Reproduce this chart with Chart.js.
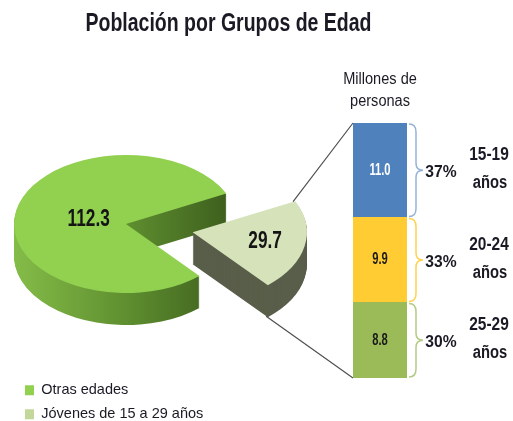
<!DOCTYPE html>
<html><head><meta charset="utf-8">
<style>
html,body{margin:0;padding:0;width:513px;height:421px;overflow:hidden;background:#fff;}
canvas{position:absolute;left:0;top:0;}
</style>
<script src="https://cdn.jsdelivr.net/npm/chart.js@4.4.1/dist/chart.umd.min.js"></script>
</head><body>
<canvas id="pie" width="513" height="431"></canvas>
<canvas id="bar" width="513" height="421"></canvas>
<script>
// ---------- data ----------
const pieLabels = ['Otras edades', 'Jóvenes de 15 a 29 años'];
const pieValues = [112.3, 29.7];
const groupLabels = ['25-29 años', '20-24 años', '15-19 años']; // bottom to top
const groupValues = [8.8, 9.9, 11.0];
const groupPercents = ['30%', '33%', '37%'];
const titleText = 'Población por Grupos de Edad';
const unitText = ['Millones de', 'personas'];

// ---------- styles ----------
const SANS = "'Liberation Sans', Arial, sans-serif";
const pieTopColors = ['#92D050', '#D5E2BA'];
const legendColors = ['#92D050', '#C4D79B'];
const pieSideSmall = '#595E4A';
const barColors = ['#9BBB59', '#FFCC33', '#4F81BD'];
const braceColors = ['#B3CB85', '#FFD24D', '#95B3D7'];
const valueColors = ['#1A1A1A', '#1A1A1A', '#FFFFFF'];
const TEXT_DARK = '#1A1A24';
const PIE_CENTER = {x: 126, y: 224};
const TILT = 0.616;
const DEPTH = 32;
const labelRadius = [0.34, 0.66];

// condensed text: real text drawn with a horizontal squeeze
function condText(ctx, text, x, y, font, sx, color) {
  ctx.save();
  ctx.font = font;
  ctx.fillStyle = color;
  ctx.textAlign = 'center';
  ctx.textBaseline = 'middle';
  ctx.translate(x, y);
  ctx.scale(sx, 1);
  ctx.fillText(text, 0, 0);
  ctx.restore();
}

function pieMap(arcs, arc, ang, r, depth) {
  const c = arcs[0];
  const off = (arc.options.offset || 0) / 4;
  const h = (arc.startAngle + arc.endAngle) / 2;
  const px = arc.x + Math.cos(h) * off + Math.cos(ang) * r;
  const py = arc.y + Math.sin(h) * off + Math.sin(ang) * r;
  return {x: PIE_CENTER.x + (px - c.x), y: PIE_CENTER.y + TILT * (py - c.y) + depth};
}

const pie3d = {
  id: 'pie3d',
  beforeDatasetsDraw(chart) {
    const ctx = chart.ctx;
    const arcs = chart.getDatasetMeta(0).data;
    const cx = arcs[0].x, cy = arcs[0].y, R = arcs[0].outerRadius;
    ctx.save();
    ctx.translate(PIE_CENTER.x, PIE_CENTER.y);
    ctx.scale(1, TILT);
    ctx.translate(-cx, -cy);
    const g = ctx.createLinearGradient(cx - R, 0, cx + R, 0);
    g.addColorStop(0, '#84BC48');
    g.addColorStop(0.5, '#5F8F30');
    g.addColorStop(1, '#3A5A1B');
    const sides = [g, pieSideSmall];
    for (let d = DEPTH; d >= 1; d -= 1) {
      ctx.save();
      ctx.translate(0, d / TILT);
      arcs.forEach((arc, i) => {
        const fake = Object.create(arc);
        fake.options = Object.assign({}, arc.options, {backgroundColor: sides[i], borderWidth: 0});
        fake.draw(ctx);
      });
      ctx.restore();
    }
  },
  afterDatasetsDraw(chart) {
    const ctx = chart.ctx;
    ctx.restore();
    const arcs = chart.getDatasetMeta(0).data;
    arcs.forEach((arc, i) => {
      const h = (arc.startAngle + arc.endAngle) / 2;
      const p = pieMap(arcs, arc, h, arc.outerRadius * labelRadius[i], 0);
      condText(ctx, pieValues[i].toFixed(1), p.x, p.y, 'bold 23px ' + SANS, 0.75, '#141414');
    });
  },
  afterDraw(chart) {
    condText(chart.ctx, titleText, 228.5, 24, 'bold 25px ' + SANS, 0.78, TEXT_DARK);
  }
};

const pieChart = new Chart(document.getElementById('pie'), {
  type: 'pie',
  data: {
    labels: pieLabels,
    datasets: [{
      data: pieValues,
      backgroundColor: pieTopColors,
      borderWidth: 0,
      offset: [0, 272],
      hoverOffset: 0,
      clip: false
    }]
  },
  options: {
    responsive: false,
    animation: false,
    rotation: 139,
    radius: 112,
    cutout: '0%',
    layout: {padding: {left: 15.5, right: 69.5, top: 0, bottom: 0}},
    plugins: {
      tooltip: {enabled: false},
      title: {display: false},
      legend: {
        position: 'left', align: 'end',
        labels: {
          boxWidth: 9, boxHeight: 10, padding: 9.5, color: TEXT_DARK,
          font: {family: SANS, size: 14.5},
          generateLabels(chart) {
            const items = Chart.overrides.pie.plugins.legend.labels.generateLabels(chart);
            items.forEach((it, i) => { it.fillStyle = legendColors[i]; it.strokeStyle = legendColors[i]; it.lineWidth = 0; });
            return items;
          }
        }
      }
    }
  },
  plugins: [pie3d]
});

function drawBrace(ctx, x0, y0, y1, color) {
  const xv = x0 + 7, xt = x0 + 14, mid = (y0 + y1) / 2;
  ctx.beginPath();
  ctx.moveTo(x0, y0 + 1);
  ctx.quadraticCurveTo(xv, y0 + 1, xv, y0 + 9);
  ctx.lineTo(xv, mid - 7);
  ctx.quadraticCurveTo(xv, mid, xt, mid);
  ctx.quadraticCurveTo(xv, mid, xv, mid + 7);
  ctx.lineTo(xv, y1 - 9);
  ctx.quadraticCurveTo(xv, y1 - 1, x0, y1 - 1);
  ctx.strokeStyle = color;
  ctx.lineWidth = 1.5;
  ctx.stroke();
}

const barDeco = {
  id: 'barDeco',
  beforeDatasetsDraw(chart) {
    const ctx = chart.ctx;
    const area = chart.chartArea;
    const arcs = pieChart.getDatasetMeta(0).data;
    const small = arcs[1];
    const topPt = pieMap(arcs, small, small.startAngle, small.outerRadius, 0);
    const botPt = pieMap(arcs, small, small.endAngle, small.outerRadius, DEPTH);
    const n = groupValues.length;
    const topBar = chart.getDatasetMeta(n - 1).data[0];
    const botBar = chart.getDatasetMeta(0).data[0];
    ctx.save();
    ctx.strokeStyle = '#505050';
    ctx.lineWidth = 1.2;
    ctx.beginPath();
    ctx.moveTo(topPt.x, topPt.y);
    ctx.lineTo(area.left, topBar.y);
    ctx.moveTo(botPt.x, botPt.y);
    ctx.lineTo(area.left, botBar.base);
    ctx.stroke();
    ctx.restore();
    const cx = (area.left + area.right) / 2;
    condText(ctx, unitText[0], cx, 80, '16px ' + SANS, 0.91, TEXT_DARK);
    condText(ctx, unitText[1], cx, 102, '16px ' + SANS, 0.91, TEXT_DARK);
  },
  afterDatasetsDraw(chart) {
    const ctx = chart.ctx;
    groupValues.forEach((v, i) => {
      const el = chart.getDatasetMeta(i).data[0];
      const top = el.y, bot = el.base, mid = (top + bot) / 2;
      const right = el.x + el.width / 2;
      condText(ctx, v.toFixed(1), el.x, mid, 'bold 16px ' + SANS, 0.7, valueColors[i]);
      drawBrace(ctx, right + 2, top, bot, braceColors[i]);
      condText(ctx, groupPercents[i], right + 34, mid + 2, 'bold 17px ' + SANS, 0.92, TEXT_DARK);
      const parts = groupLabels[i].split(' ');
      condText(ctx, parts[0], right + 82, mid - 15, 'bold 18px ' + SANS, 0.86, TEXT_DARK);
      condText(ctx, parts[1], right + 83, mid + 13, 'bold 18px ' + SANS, 0.82, TEXT_DARK);
    });
  }
};

const total = groupValues.reduce((a, b) => a + b, 0);
const barChart = new Chart(document.getElementById('bar'), {
  type: 'bar',
  data: {
    labels: [''],
    datasets: groupValues.map((v, i) => ({
      label: groupLabels[i], data: [v], backgroundColor: barColors[i],
      borderWidth: 0, barPercentage: 1, categoryPercentage: 1
    }))
  },
  options: {
    responsive: false,
    animation: false,
    layout: {padding: {left: 353, right: 106, top: 123, bottom: 43}},
    scales: {
      x: {display: false, stacked: true},
      y: {display: false, stacked: true, min: 0, max: total}
    },
    plugins: {
      legend: {display: false},
      tooltip: {enabled: false},
      title: {display: false}
    }
  },
  plugins: [barDeco]
});
</script>
</body></html>
